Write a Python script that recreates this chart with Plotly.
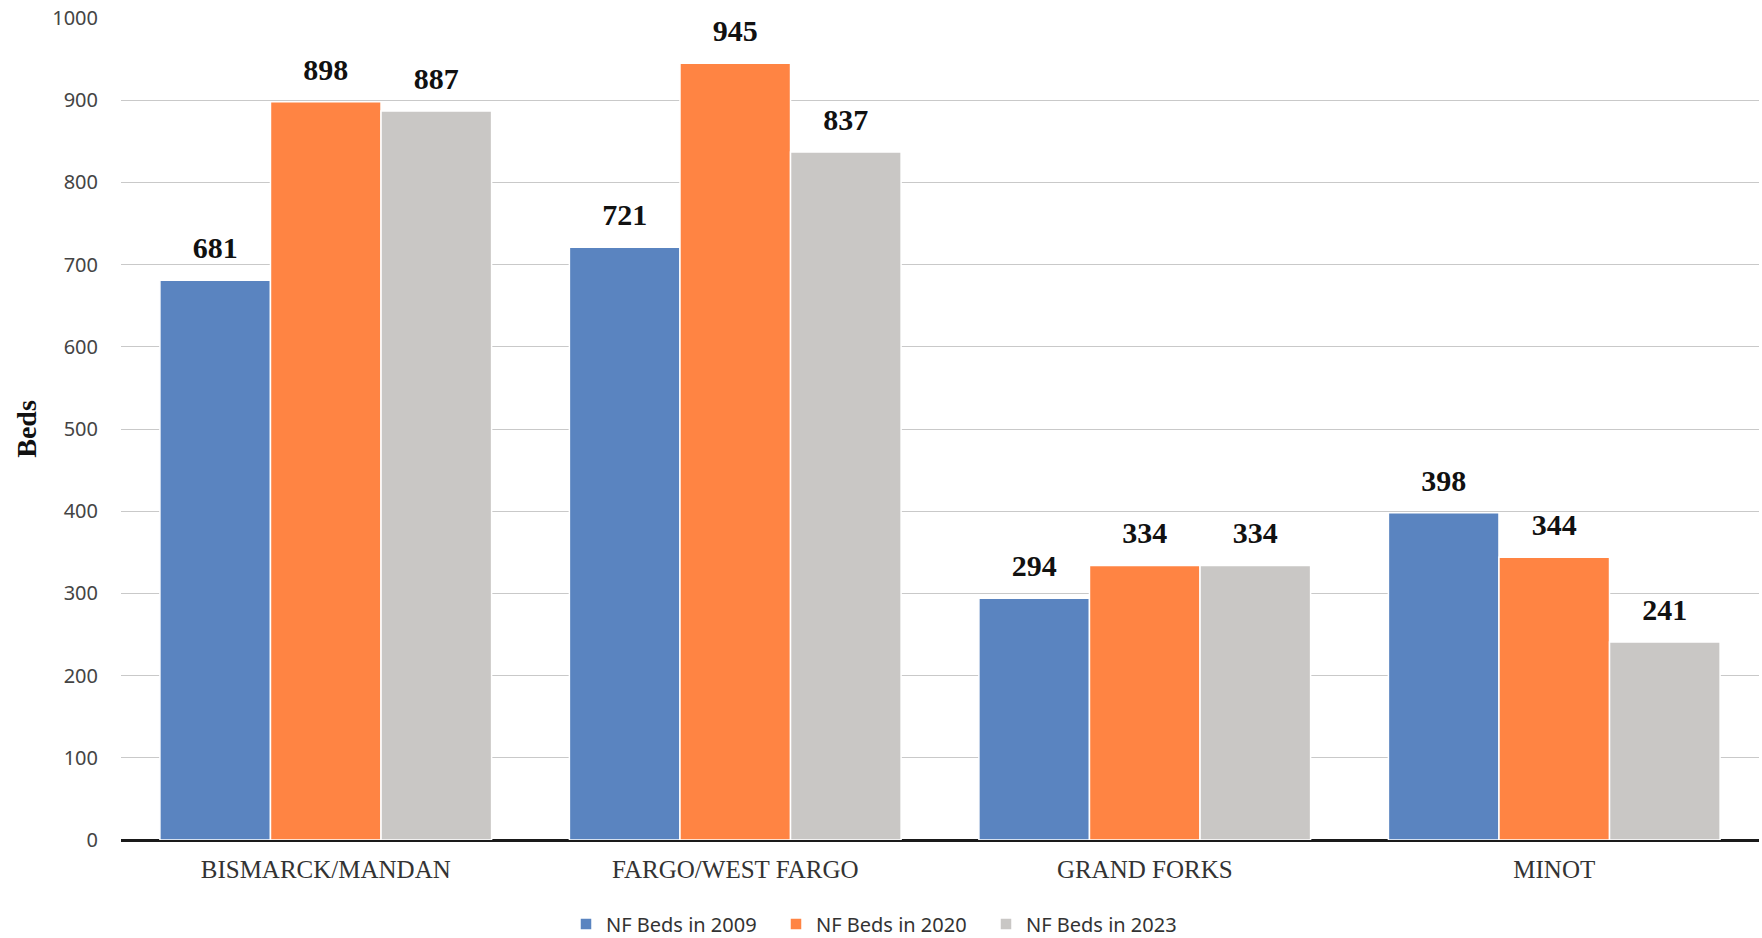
import plotly.graph_objects as go

categories = ["BISMARCK/MANDAN", "FARGO/WEST FARGO", "GRAND FORKS", "MINOT"]
series_names = ["NF Beds in 2009", "NF Beds in 2020", "NF Beds in 2023"]
beds_2009 = [681, 721, 294, 398]
beds_2020 = [898, 945, 334, 344]
beds_2023 = [887, 837, 334, 241]
colors = ["#5a84c0", "#ff8443", "#c9c7c5"]
y_ticks = [0, 100, 200, 300, 400, 500, 600, 700, 800, 900, 1000]

fig = go.Figure()
for name, vals, col in zip(series_names, [beds_2009, beds_2020, beds_2023], colors):
    fig.add_trace(go.Bar(
        name=name, x=categories, y=vals,
        marker=dict(color=col, line=dict(color="white", width=1.5)),
        offsetgroup=name,
    ))
# value labels, grouped the same way as the bars
for name, vals in zip(series_names, [beds_2009, beds_2020, beds_2023]):
    fig.add_trace(go.Scatter(
        x=categories, y=vals, mode="markers+text",
        text=[str(v) for v in vals], textposition="top center",
        textfont=dict(family="Liberation Serif", size=30, color="#111111", weight="bold"),
        marker=dict(size=22, opacity=0),
        offsetgroup=name, showlegend=False, hoverinfo="skip", cliponaxis=False,
    ))

fig.update_layout(
    width=1762, height=938,
    margin=dict(l=121, r=3, t=18, b=98),
    paper_bgcolor="white", plot_bgcolor="white",
    barmode="group", bargap=0.19, bargroupgap=0,
    scattermode="group", scattergap=0.19,
    showlegend=True,
    legend=dict(orientation="h", xref="container", x=0.5, xanchor="center",
                yref="container", y=0.015, yanchor="middle",
                font=dict(family="Noto Sans", size=20, color="#333333"),
                itemwidth=30, entrywidth=165, traceorder="normal"),
    font=dict(family="Liberation Serif", size=29),
)

fig.update_yaxes(
    range=[0, 1000], tickvals=y_ticks, ticktext=[str(v) for v in y_ticks],
    tickfont=dict(family="Noto Sans", size=20, color="#444444"),
    showgrid=True, gridcolor="#c9c9c9", gridwidth=1,
    zeroline=True, zerolinecolor="#1a1a1a", zerolinewidth=3,
    showline=False, ticklabelstandoff=22,
    title=dict(text="<b>Beds</b>", font=dict(family="Liberation Serif", size=28, color="#111111"), standoff=7),
)
fig.update_xaxes(
    tickfont=dict(family="Liberation Serif", size=25, color="#333333"),
    showline=False, ticks="", ticklabelstandoff=12, automargin=False,
)

fig.write_html("out.html")
